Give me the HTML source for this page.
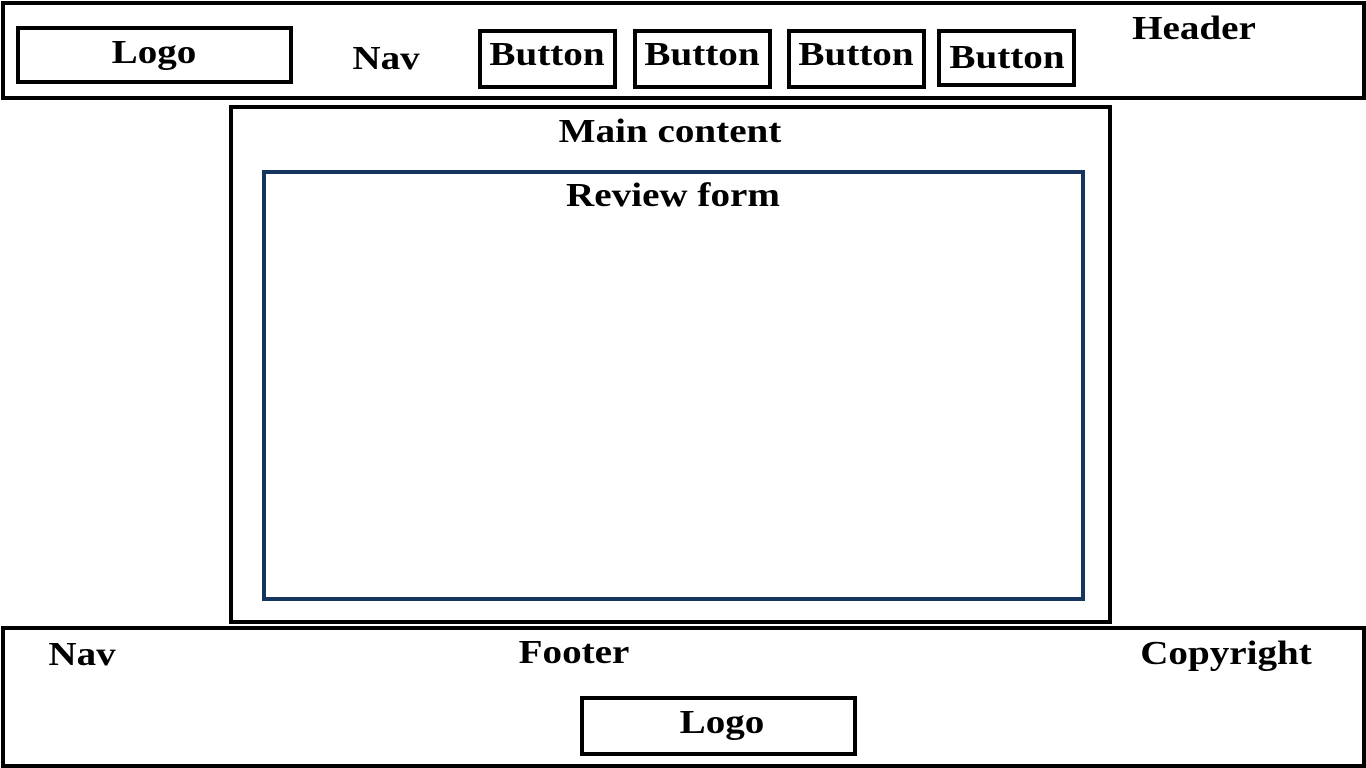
<!DOCTYPE html>
<html><head><meta charset="utf-8"><style>
body{margin:0;width:1366px;height:768px;background:#fff;position:relative;overflow:hidden;font-family:"Liberation Serif","DejaVu Serif",serif;font-weight:bold;color:#000}
.b{position:absolute;border:4px solid #000;box-sizing:border-box}
.t{position:absolute;font-size:34px;line-height:40px;white-space:nowrap;transform:translateX(-50%) scaleX(1.15)}
</style></head><body>
<div class="b" style="left:1px;top:1px;width:1365px;height:99px"></div>
<div class="b" style="left:16px;top:26px;width:277px;height:58px"></div>
<div class="b" style="left:478px;top:29px;width:139px;height:60px"></div>
<div class="b" style="left:633px;top:29px;width:139px;height:60px"></div>
<div class="b" style="left:787px;top:29px;width:139px;height:60px"></div>
<div class="b" style="left:937px;top:29px;width:139px;height:58px"></div>
<div class="b" style="left:229px;top:105px;width:883px;height:519px"></div>
<div class="b" style="left:262px;top:170px;width:823px;height:431px;border-color:#15355f"></div>
<div class="b" style="left:1px;top:626px;width:1365px;height:142px"></div>
<div class="b" style="left:580px;top:696px;width:277px;height:60px"></div>

<div class="t" style="left:154px;top:33px">Logo</div>
<div class="t" style="left:386px;top:39px">Nav</div>
<div class="t" style="left:547px;top:35px">Button</div>
<div class="t" style="left:702px;top:35px">Button</div>
<div class="t" style="left:856px;top:35px">Button</div>
<div class="t" style="left:1007px;top:38px">Button</div>
<div class="t" style="left:1194px;top:9px">Header</div>
<div class="t" style="left:670px;top:112px">Main content</div>
<div class="t" style="left:673px;top:176px">Review form</div>
<div class="t" style="left:82px;top:635px">Nav</div>
<div class="t" style="left:574px;top:633px">Footer</div>
<div class="t" style="left:1226px;top:634px">Copyright</div>
<div class="t" style="left:722px;top:703px">Logo</div>
</body></html>
